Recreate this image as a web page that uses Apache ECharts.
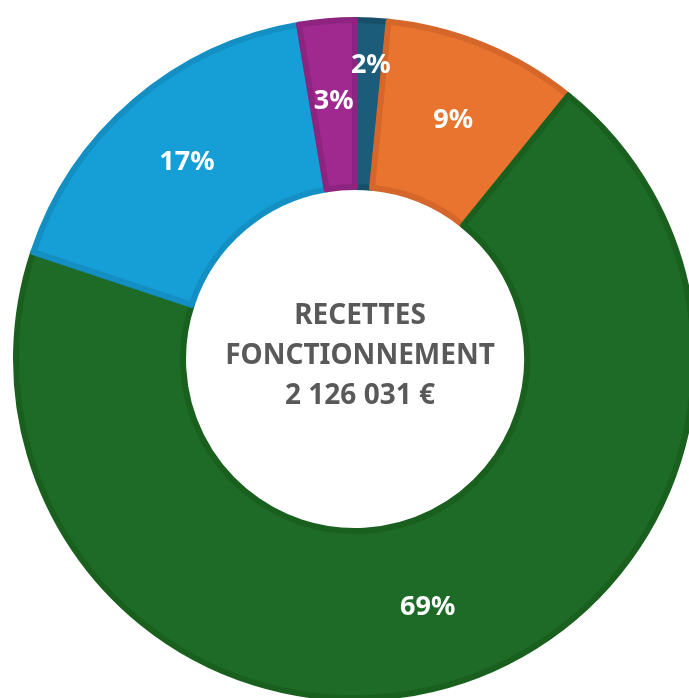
<!DOCTYPE html>
<html>
<head>
<meta charset="utf-8">
<script src="https://cdn.jsdelivr.net/npm/echarts@6/dist/echarts.min.js"></script>
<style>
  html, body { margin: 0; padding: 0; background: #fff; }
  #chart { width: 689px; height: 698px; }
</style>
</head>
<body>
<div id="chart"></div>
<script>
// parts of the operating income, clockwise from 12 o'clock
const categories = ["Part A", "Part B", "Part C", "Part D", "Part E"];
const amounts = [33600, 196700, 1472700, 366900, 56131];
const fillColors = ["#1a5c7a", "#e8742f", "#1d6b27", "#169fd6", "#a0298f"];
const edgeColors = ["#174f69", "#d5672a", "#19601f", "#138fc3", "#8d2480"];
const centerLines = ["RECETTES", "FONCTIONNEMENT", "2 126 031 €"];

const chart = echarts.init(document.getElementById("chart"));

const pieData = categories.map((name, i) => ({
  name,
  value: amounts[i],
  itemStyle: { color: fillColors[i], borderColor: edgeColors[i] }
}));

const option = {
  animation: false,
  series: [
    {
      type: "pie",
      center: [355, 359],
      radius: [172, 339],
      startAngle: 90,
      clockwise: true,
      avoidLabelOverlap: false,
      percentPrecision: 0,
      itemStyle: { borderWidth: 6 },
      label: {
        show: true,
        position: "inside",
        formatter: "{d}%",
        color: "#fff",
        fontFamily: "Noto Sans",
        fontWeight: "bold",
        fontSize: 27
      },
      labelLine: { show: false },
      // small slice label pushed outward like in the original
      labelLayout: (p) => (p.dataIndex === 0 ? { dx: 3, dy: -36 } : {}),
      emphasis: { disabled: true },
      data: pieData
    }
  ],
  graphic: [
    {
      type: "text",
      x: 360,
      y: 356,
      style: {
        text: centerLines.join("\n"),
        textAlign: "center",
        textVerticalAlign: "middle",
        fill: "#595959",
        fontFamily: "Noto Sans",
        fontWeight: "bold",
        fontSize: 28,
        lineHeight: 40
      }
    }
  ]
};

chart.setOption(option);
</script>
</body>
</html>
